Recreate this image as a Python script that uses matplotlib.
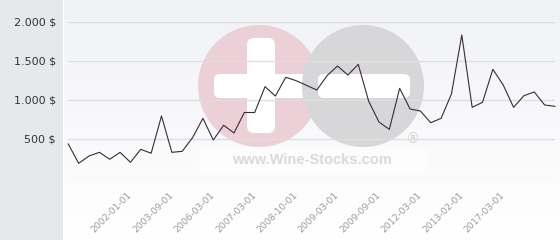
import numpy as np
import matplotlib
matplotlib.use("Agg")
import matplotlib.pyplot as plt
from matplotlib.patches import Rectangle, Circle, FancyBboxPatch

# price history, one value per auction date (USD)
prices = [436, 188, 282, 329, 240, 329, 201, 368, 317, 795,
          329, 342, 517, 765, 487, 676, 577, 840, 840, 1171,
          1051, 1291, 1248, 1188, 1128, 1314, 1436, 1320, 1457, 987,
          718, 624, 1150, 885, 859, 709, 765, 1077, 1833, 906,
          970, 1393, 1192, 906, 1055, 1103, 936, 919]
date_labels = ['2002-01-01', '2003-09-01', '2006-03-01', '2007-03-01', '2008-10-01',
               '2009-03-01', '2009-09-01', '2012-03-01', '2013-02-01', '2017-03-01']
y_ticks = [0, 500, 1000, 1500, 2000]

W, H = 560, 240
fig = plt.figure(figsize=(W / 100, H / 100), dpi=100, facecolor='white')

# background layer in pixel coordinates
bg = fig.add_axes([0, 0, 1, 1], zorder=0)
bg.set_xlim(0, W)
bg.set_ylim(H, 0)
bg.axis('off')
bg.add_patch(Rectangle((0, 0), 63, H, color='#e6e9ec', lw=0))
grad = np.linspace(0, 1, 100).reshape(-1, 1)
bg.imshow(grad, extent=(64, W, H, 0), cmap=matplotlib.colors.LinearSegmentedColormap.from_list(
    'g', ['#f1f2f6', '#ffffff']), aspect='auto', zorder=0.5)

# watermark (pink plus, grey minus)
bg.add_patch(Circle((259, 86), 61, color='#ebd0d7', lw=0, zorder=1))
bg.add_patch(FancyBboxPatch((254, 45), 14, 81, boxstyle='round,pad=7', color='white', lw=0, zorder=1.1))
bg.add_patch(FancyBboxPatch((220, 80), 90, 12, boxstyle='round,pad=6', color='white', lw=0, zorder=1.1))
bg.add_patch(Circle((363, 86), 61, color='#d7d7d9', lw=0, zorder=1.2))
bg.add_patch(FancyBboxPatch((324, 80), 80, 12, boxstyle='round,pad=6', color='white', lw=0, zorder=1.3))
bg.add_patch(FancyBboxPatch((200, 148), 226, 24, boxstyle='round,pad=1', color='white', alpha=0.5, lw=0, zorder=1.4))
bg.text(312, 160, 'www.Wine-Stocks.com', ha='center', va='center', fontsize=10.5,
        fontweight='bold', family='Liberation Sans', color='#dadada', zorder=1.5)
bg.text(413, 139, '®', ha='center', va='center', fontsize=10, family='Liberation Sans',
        color='#cfcfcf', zorder=1.5)

# chart
ax = fig.add_axes([68.3 / W, (H - 178) / H, (555 - 68.3) / W, 156 / H], zorder=2)
ax.patch.set_alpha(0)
x = np.arange(len(prices))
ax.plot(x, prices, color='#3a2a36', lw=0.8, clip_on=False, zorder=3)
ax.set_xlim(0, len(prices) - 1)
ax.set_ylim(0, 2000)

for s in ax.spines.values():
    s.set_visible(False)
ax.set_yticks(y_ticks)
ax.set_yticklabels(['' if v == 0 else f'{v:,} $'.replace(',', '.') for v in y_ticks],
                   fontsize=8, color='#333333')
ax.grid(axis='y', color='#dedede', lw=1)
ax.set_axisbelow(True)

tick_pos = np.arange(6, len(prices), 4)[:len(date_labels)]
ax.set_xticks(tick_pos)
ax.set_xticklabels(date_labels, rotation=45, ha='right', va='center',
                   rotation_mode='anchor', fontsize=6.6, color='#9a9a9a')
ax.tick_params(axis='both', length=0)
ax.tick_params(axis='y', pad=9)
ax.tick_params(axis='x', pad=11)

fig.savefig('out.png', dpi=100)
